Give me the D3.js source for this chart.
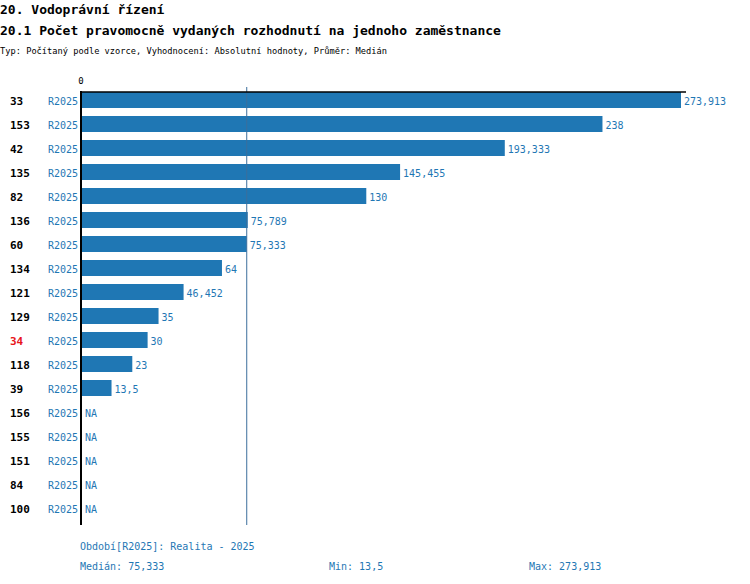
<!DOCTYPE html>
<html>
<head>
<meta charset="utf-8">
<script src="https://cdn.jsdelivr.net/npm/d3@7"></script>
<style>
  body { margin: 0; background: #fff; }
  text { font-family: "DejaVu Sans Mono", "Liberation Mono", monospace; }
</style>
</head>
<body>
<svg id="chart" width="750" height="584"></svg>
<script>
// chart data
var ids = ["33", "153", "42", "135", "82", "136", "60", "134", "121", "129", "34", "118", "39", "156", "155", "151", "84", "100"];
var values = [273.913, 238, 193.333, 145.455, 130, 75.789, 75.333, 64, 46.452, 35, 30, 23, 13.5, null, null, null, null, null];
var labels = ["273,913", "238", "193,333", "145,455", "130", "75,789", "75,333", "64", "46,452", "35", "30", "23", "13,5", "NA", "NA", "NA", "NA", "NA"];
var period = "R2025";
var highlight = "34";
var median = 75.333;
var summary = ["Období[R2025]: Realita - 2025", "Medián: 75,333", "Min: 13,5", "Max: 273,913"];

var blue = "#1f77b4";
var svg = d3.select("#chart");

// headers
svg.append("text").attr("x", 0).attr("y", 14)
  .style("font-size", "13px").style("font-weight", "bold")
  .text("20. Vodoprávní řízení");
svg.append("text").attr("x", 0).attr("y", 35)
  .style("font-size", "13px").style("font-weight", "bold")
  .text("20.1 Počet pravomocně vydaných rozhodnutí na jednoho zaměstnance");
svg.append("text").attr("x", 0).attr("y", 54)
  .style("font-size", "9.5px")
  .attr("textLength", 387).attr("lengthAdjust", "spacingAndGlyphs")
  .text("Typ: Počítaný podle vzorce, Vyhodnocení: Absolutní hodnoty, Průměr: Medián");

var x = d3.scaleLinear().domain([0, d3.max(values)]).range([82, 681]);
var y = d3.scaleBand().domain(ids).range([88, 520]).paddingInner(1 / 3).paddingOuter(1 / 6);

var rows = ids.map(function (d, i) {
  return { id: d, v: values[i], label: labels[i] };
});

// bars
svg.selectAll("rect.bar")
  .data(rows.filter(function (d) { return d.v != null; }))
  .enter()
  .append("rect")
  .attr("class", "bar")
  .attr("x", x(0))
  .attr("y", function (d) { return y(d.id); })
  .attr("width", function (d) { return x(d.v) - x(0); })
  .attr("height", y.bandwidth())
  .attr("fill", blue);

// median line
svg.append("line")
  .attr("x1", x(median)).attr("x2", x(median))
  .attr("y1", 87).attr("y2", 525)
  .attr("stroke", "#3b6f9c").attr("stroke-width", 1);

// axis lines
svg.append("line").attr("x1", 80).attr("x2", 686).attr("y1", 92).attr("y2", 92)
  .attr("stroke", "#000").attr("stroke-width", 1.5);
svg.append("line").attr("x1", 81).attr("x2", 81).attr("y1", 91).attr("y2", 525)
  .attr("stroke", "#000").attr("stroke-width", 2);
svg.append("text").attr("x", x(0) - 1).attr("y", 84)
  .attr("text-anchor", "middle").style("font-size", "9px")
  .text("0");

// value labels
svg.selectAll("text.val")
  .data(rows)
  .enter()
  .append("text")
  .attr("class", "val")
  .attr("x", function (d) { return (d.v != null ? x(d.v) : x(0)) + 3; })
  .attr("y", function (d) { return y(d.id) + y.bandwidth() / 2 + 5; })
  .style("font-size", "10px")
  .attr("fill", blue)
  .text(function (d) { return d.label; });

// row ids
svg.selectAll("text.id")
  .data(rows)
  .enter()
  .append("text")
  .attr("class", "id")
  .attr("x", 10)
  .attr("y", function (d) { return y(d.id) + y.bandwidth() / 2 + 5; })
  .style("font-size", "11px").style("font-weight", "bold")
  .attr("fill", function (d) { return d.id == highlight ? "#e8141b" : "#000"; })
  .text(function (d) { return d.id; });

// period labels
svg.selectAll("text.per")
  .data(rows)
  .enter()
  .append("text")
  .attr("class", "per")
  .attr("x", 78)
  .attr("y", function (d) { return y(d.id) + y.bandwidth() / 2 + 5; })
  .attr("text-anchor", "end")
  .style("font-size", "10px")
  .attr("fill", blue)
  .text(period);

// summary
var sumPos = [[80, 550], [80, 570], [329, 570], [529, 570]];
svg.selectAll("text.sum")
  .data(summary)
  .enter()
  .append("text")
  .attr("class", "sum")
  .attr("x", function (d, i) { return sumPos[i][0]; })
  .attr("y", function (d, i) { return sumPos[i][1]; })
  .style("font-size", "10px")
  .attr("fill", blue)
  .text(function (d) { return d; });
</script>
</body>
</html>
